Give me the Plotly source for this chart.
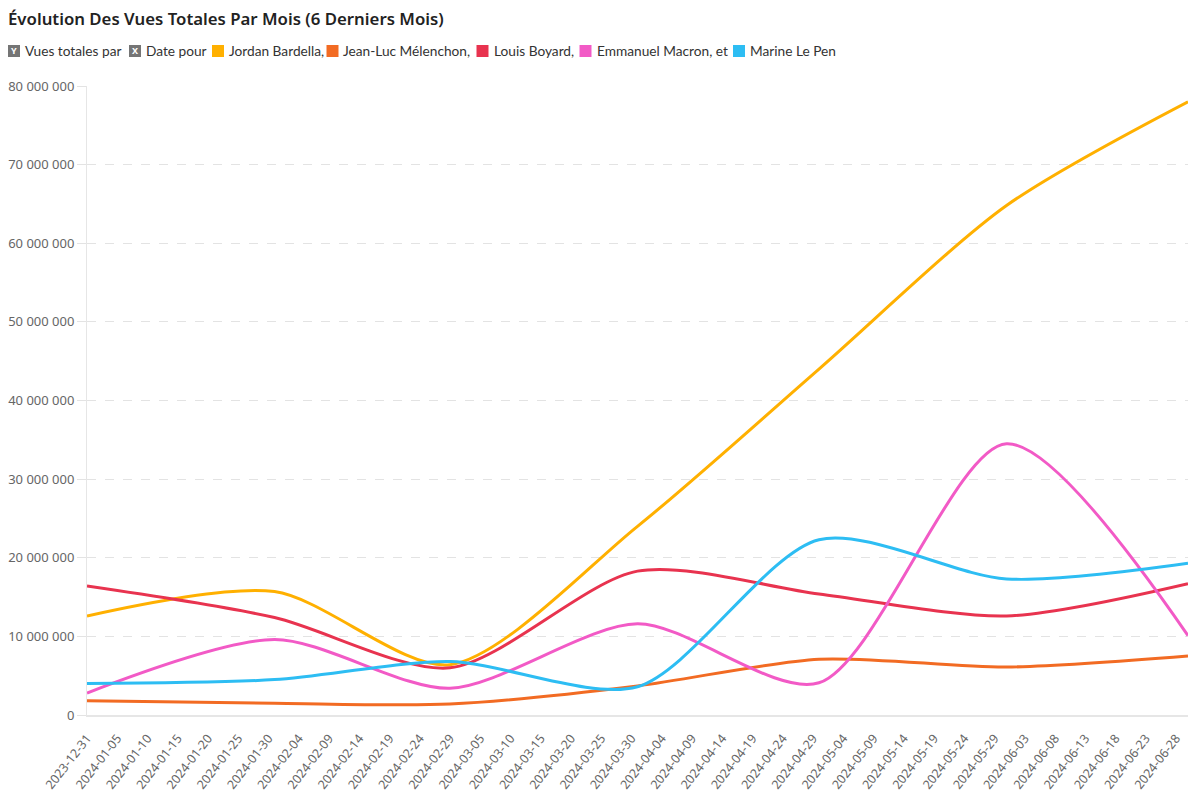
import plotly.graph_objects as go

# ---- data ----
dates = ["2023-12-31", "2024-01-31", "2024-02-29", "2024-03-31",
         "2024-04-30", "2024-05-31", "2024-06-30"]
bardella = [12_600_000, 15_700_000, 6_400_000, 24_000_000, 44_000_000, 64_800_000, 78_000_000]
melenchon = [1_800_000, 1_500_000, 1_400_000, 3_700_000, 7_100_000, 6_100_000, 7_500_000]
boyard = [16_400_000, 12_400_000, 6_000_000, 18_300_000, 15_400_000, 12_600_000, 16_700_000]
macron = [2_800_000, 9_600_000, 3_400_000, 11_600_000, 4_100_000, 34_500_000, 10_100_000]
lepen = [4_000_000, 4_500_000, 6_800_000, 3_600_000, 22_300_000, 17_300_000, 19_300_000]

series_names = ["Jordan Bardella,", "Jean-Luc Mélenchon,", "Louis Boyard,",
                "Emmanuel Macron, et", "Marine Le Pen"]
series_values = [bardella, melenchon, boyard, macron, lepen]
colors = ["#FFB000", "#F26B23", "#E8334F", "#F25AC6", "#2DBDF3"]

title_text = "Évolution Des Vues Totales Par Mois (6 Derniers Mois)"
FONT = "Noto Sans, Open Sans, sans-serif"
LEG_FONT = "Lato, Noto Sans, sans-serif"

W, H = 1200, 794
ML, MR, MT, MB = 87, 12, 86, 79
PW, PH = W - ML - MR, H - MT - MB

fig = go.Figure()
for name, vals, col in zip(series_names, series_values, colors):
    fig.add_trace(go.Scatter(
        x=dates, y=vals, name=name, mode="lines",
        line=dict(color=col, width=3, shape="spline", smoothing=0.8),
        showlegend=False, hoverinfo="x+y+name",
    ))

def px_x(px):
    return (px - ML) / PW
def px_y(py):
    return 1 - (py - MT) / PH

ann = []
shapes = []
TXT_PAD = 2  # annotation inner offset

# title
ann.append(dict(text=title_text, xref="paper", yref="paper", x=px_x(8 - TXT_PAD), y=px_y(18),
                xanchor="left", yanchor="middle", showarrow=False,
                font=dict(family=FONT, size=16.8, color="#222222", weight=600)))

# legend row
LEG_Y = 51
BOX = 12
legend_items = [("Y", "Vues totales par", "#757575", 14, 25),
                ("X", "Date pour", "#757575", 135, 146)]
box_centers = [218, 332.5, 482.5, 585.5, 739]
text_lefts = [229, 343, 494, 597, 750]
for i, (nm, col) in enumerate(zip(series_names, colors)):
    legend_items.append(("", nm, col, box_centers[i], text_lefts[i]))

for letter, label, col, bx, tx in legend_items:
    shapes.append(dict(type="rect", xref="paper", yref="paper",
                       x0=px_x(bx - BOX / 2), x1=px_x(bx + BOX / 2),
                       y0=px_y(LEG_Y + BOX / 2), y1=px_y(LEG_Y - BOX / 2),
                       fillcolor=col, line=dict(width=0), layer="above"))
    if letter:
        ann.append(dict(text=letter, xref="paper", yref="paper",
                        x=px_x(bx), y=px_y(LEG_Y), xanchor="center", yanchor="middle",
                        showarrow=False,
                        font=dict(family=FONT, size=9, color="white", weight=700)))
    ann.append(dict(text=label, xref="paper", yref="paper",
                    x=px_x(tx - TXT_PAD), y=px_y(LEG_Y), xanchor="left", yanchor="middle",
                    showarrow=False, font=dict(family=LEG_FONT, size=13.7, color="#333333")))

fig.update_layout(
    width=W, height=H,
    margin=dict(l=ML, r=MR, t=MT, b=MB, autoexpand=False),
    paper_bgcolor="white", plot_bgcolor="white",
    separators=", ",
    font=dict(family=FONT, color="#666666"),
    annotations=ann,
    shapes=shapes,
    showlegend=False,
    xaxis=dict(
        type="date", range=["2023-12-31", "2024-06-30"],
        tick0="2023-12-31", dtick=5 * 86400000, tickformat="%Y-%m-%d",
        tickangle=-52, tickfont=dict(size=12.5, color="#666666"),
        ticklabelstandoff=9, automargin=False,
        showgrid=False, zeroline=False,
        showline=True, linecolor="#E6E6E6", linewidth=2,
        ticks="", fixedrange=True,
    ),
    yaxis=dict(
        range=[0, 80_000_000], dtick=10_000_000, tickformat=",d",
        tickfont=dict(size=13, color="#666666"), automargin=False,
        showgrid=True, gridcolor="#E3E3E3", griddash="dash", gridwidth=1,
        zeroline=False, showline=True, linecolor="#E6E6E6", linewidth=1,
        ticks="outside", ticklen=9, tickcolor="#E3E3E3",
        fixedrange=True,
    ),
)

fig.write_html("out.html", config={"displayModeBar": False},
               post_script="document.body.style.margin='0';document.body.style.overflow='hidden';")
